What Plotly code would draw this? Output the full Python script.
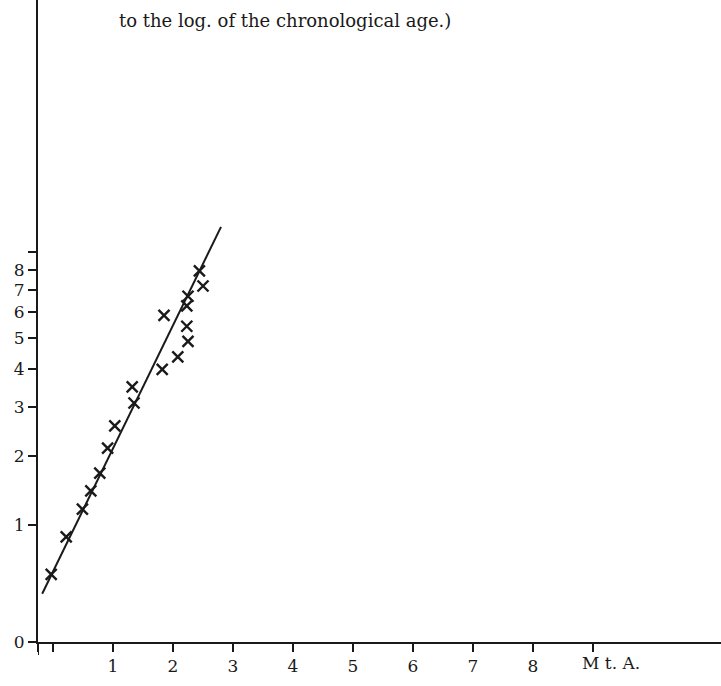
import plotly.graph_objects as go

# Measured points: mental age axis (x) vs chronological age (y, plotted on log(age+1))
mental_age = [-0.03, 0.22, 0.49, 0.63, 0.78, 0.91, 1.03, 1.35, 1.32, 1.82, 1.85,
              2.08, 2.25, 2.23, 2.23, 2.25, 2.44, 2.50]
chron_age = [0.49, 0.86, 1.19, 1.44, 1.71, 2.14, 2.58, 3.10, 3.51, 4.00, 5.88,
             4.38, 4.90, 5.45, 6.27, 6.70, 7.94, 7.18]

# Fitted line endpoints
fit_x = [-0.18, 2.80]
fit_age = [0.33, 10.6]

y_tick_ages = [0, 1, 2, 3, 4, 5, 6, 7, 8, 9]
y_tick_labels = ["0", "1", "2", "3", "4", "5", "6", "7", "8", ""]
x_tick_vals = [-0.25, 0, 1, 2, 3, 4, 5, 6, 7, 8, 9]
x_tick_labels = ["", "", "1", "2", "3", "4", "5", "6", "7", "8", ""]
x_axis_label = "M t. A."
note_text = "to the log. of the chronological age.)"

ink = "#1a1a1a"
font = "DejaVu Serif"

fig = go.Figure()
fig.add_trace(go.Scatter(
    x=fit_x, y=[a + 1 for a in fit_age], mode="lines",
    line=dict(color=ink, width=2), hoverinfo="skip", showlegend=False))
fig.add_trace(go.Scatter(
    x=mental_age, y=[a + 1 for a in chron_age], mode="markers",
    marker=dict(symbol="x-thin", size=11, line=dict(color=ink, width=2.4)),
    showlegend=False))

fig.update_layout(
    width=721, height=686,
    margin=dict(l=38, r=0, t=0, b=44),
    paper_bgcolor="white", plot_bgcolor="white",
    font=dict(family=font, size=17, color=ink),
    xaxis=dict(range=[-0.25, 11.133], showgrid=False, zeroline=False,
               showline=True, linecolor=ink, linewidth=2,
               tickmode="array", tickvals=x_tick_vals, ticktext=x_tick_labels,
               ticks="outside", ticklen=8, tickwidth=1.5, tickcolor=ink,
               tickfont=dict(family=font, size=17, color=ink)),
    yaxis=dict(type="log", range=[0, 1.646], showgrid=False, zeroline=False,
               showline=True, linecolor=ink, linewidth=2,
               tickmode="array", tickvals=[a + 1 for a in y_tick_ages],
               ticktext=y_tick_labels,
               ticks="outside", ticklen=8, tickwidth=1.5, tickcolor=ink,
               tickfont=dict(family=font, size=17, color=ink)),
    annotations=[
        dict(text=note_text, xref="paper", yref="paper", x=(117 - 38) / 683,
             y=1 - 21 / 642, xanchor="left", yanchor="middle", showarrow=False,
             font=dict(family=font, size=18, color=ink)),
        dict(text=x_axis_label, x=9.3, y=0, xref="x", yref="paper",
             yshift=-21, xanchor="center", yanchor="middle", showarrow=False,
             font=dict(family=font, size=17, color=ink)),
    ],
    shapes=[dict(type="line", xref="x", yref="paper", x0=-0.25, x1=-0.25,
                 y0=0, y1=-13 / 642, line=dict(color=ink, width=2))],
)

fig.write_html("out.html")
